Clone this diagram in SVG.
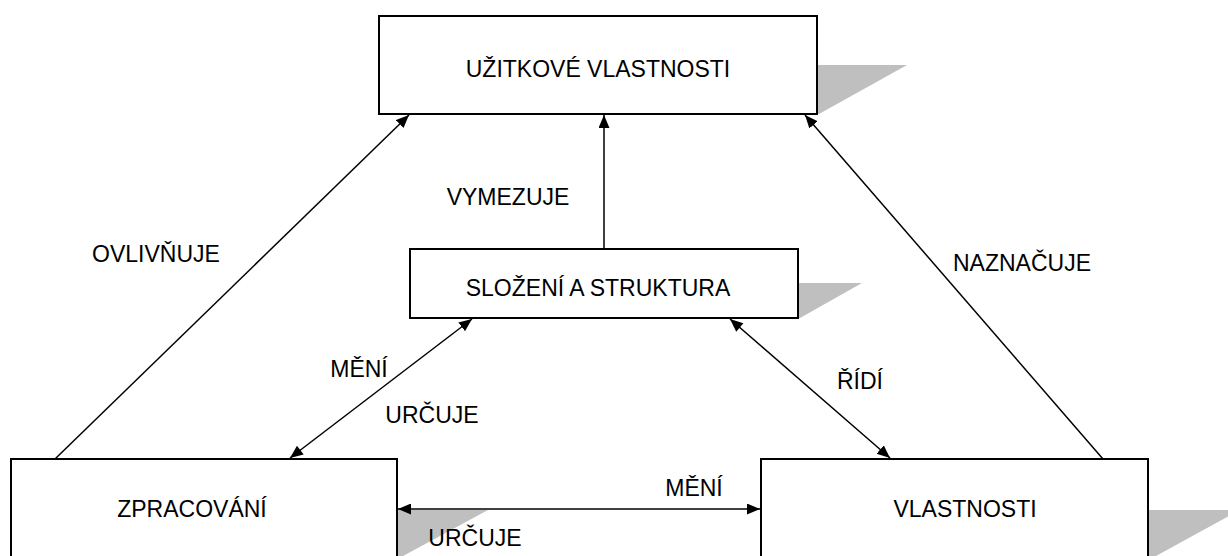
<svg xmlns="http://www.w3.org/2000/svg" width="1228" height="556" viewBox="0 0 1228 556">
  <style>
    .box { fill: #ffffff; stroke: #000000; stroke-width: 2; }
    .shadow { fill: #bfbfbf; stroke: none; }
    .link { fill: none; stroke: #000000; stroke-width: 1.5; }
    .lbl { font-family: "Liberation Sans", Arial, sans-serif; font-size: 23px; fill: #000000; text-anchor: middle; }
  </style>
  <defs>
    <marker id="arrowEnd" markerUnits="userSpaceOnUse" markerWidth="14" markerHeight="12" refX="13" refY="5.5" orient="auto">
      <path d="M0,0 L13,5.5 L0,11 z" fill="#000000"/>
    </marker>
    <marker id="arrowStart" markerUnits="userSpaceOnUse" markerWidth="14" markerHeight="12" refX="0" refY="5.5" orient="auto">
      <path d="M13,0 L0,5.5 L13,11 z" fill="#000000"/>
    </marker>
  </defs>

  <rect width="1228" height="556" fill="#ffffff"/>

  <!-- perspective shadows behind the boxes -->
  <g id="shadows">
    <polygon class="shadow" points="817,65 907,65 819,114 817,114"/>
    <polygon class="shadow" points="798,283 862,283 800,318 798,318"/>
    <polygon class="shadow" points="397,510 488,510 403,556 397,556"/>
    <polygon class="shadow" points="1148,510 1240,510 1156,556 1148,556"/>
  </g>

  <g id="node-uzitkove">
    <rect class="box" x="379" y="16" width="438" height="98"/>
    <text class="lbl" x="598" y="77">UŽITKOVÉ VLASTNOSTI</text>
  </g>

  <g id="node-slozeni">
    <rect class="box" x="410" y="249" width="388" height="69"/>
    <text class="lbl" x="598" y="296">SLOŽENÍ A STRUKTURA</text>
  </g>

  <g id="node-zpracovani">
    <rect class="box" x="11" y="459" width="386" height="101"/>
    <text class="lbl" x="192" y="517">ZPRACOVÁNÍ</text>
  </g>

  <g id="node-vlastnosti">
    <rect class="box" x="761" y="459" width="387" height="101"/>
    <text class="lbl" x="965" y="517">VLASTNOSTI</text>
  </g>

  <g id="connectors">
    <line class="link" x1="55" y1="459" x2="409" y2="115" marker-end="url(#arrowEnd)"/>
    <line class="link" x1="1103" y1="459" x2="805" y2="115" marker-end="url(#arrowEnd)"/>
    <line class="link" x1="604" y1="249" x2="604" y2="115" marker-end="url(#arrowEnd)"/>
    <line class="link" x1="290" y1="458" x2="472" y2="319" marker-start="url(#arrowStart)" marker-end="url(#arrowEnd)"/>
    <line class="link" x1="730" y1="319" x2="890" y2="458" marker-start="url(#arrowStart)" marker-end="url(#arrowEnd)"/>
    <line class="link" x1="398" y1="509" x2="760" y2="509" marker-start="url(#arrowStart)" marker-end="url(#arrowEnd)"/>
  </g>

  <g id="labels">
    <text class="lbl" x="508" y="205">VYMEZUJE</text>
    <text class="lbl" x="156" y="262">OVLIVŇUJE</text>
    <text class="lbl" x="1022" y="271">NAZNAČUJE</text>
    <text class="lbl" x="359" y="377">MĚNÍ</text>
    <text class="lbl" x="432" y="423">URČUJE</text>
    <text class="lbl" x="860" y="389">ŘÍDÍ</text>
    <text class="lbl" x="694" y="496">MĚNÍ</text>
    <text class="lbl" x="475" y="546">URČUJE</text>
  </g>
</svg>
